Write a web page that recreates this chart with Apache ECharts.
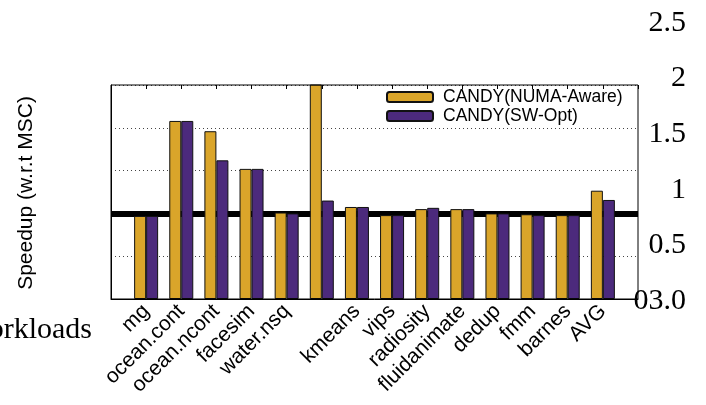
<!DOCTYPE html>
<html>
<head>
<meta charset="utf-8">
<script src="https://cdn.jsdelivr.net/npm/echarts@6.0.0/dist/echarts.min.js"></script>
<style>
  html, body { margin: 0; padding: 0; background: #fff; }
  #barchart { width: 706px; height: 405px; }
</style>
</head>
<body>
<div id="barchart"></div>
<script>
// workloads (6th group has no label in the original)
const workloads = ['mg', 'ocean.cont', 'ocean.ncont', 'facesim', 'water.nsq', '', 'kmeans', 'vips', 'radiosity', 'fluidanimate', 'dedup', 'fmm', 'barnes', 'AVG']
const numaAware = [0.97, 2.08, 1.96, 1.52, 1.01, 2.8, 1.075, 0.98, 1.05, 1.05, 1.0, 0.99, 0.98, 1.265]
const swOpt = [0.97, 2.08, 1.62, 1.52, 1.0, 1.15, 1.075, 0.98, 1.065, 1.05, 1.0, 0.98, 0.98, 1.157]
const rightTickLabels = ['03.0', '0.5', '1', '1.5', '2', '2.5']
const seriesNames = ['CANDY(NUMA-Aware)', 'CANDY(SW-Opt)']

// empty slot on both ends so groups sit on ticks like gnuplot's xrange [-1:14]
const axisCats = [''].concat(workloads, [''])
const pad = arr => ['-'].concat(arr, ['-'])

let myChart = echarts.init(document.getElementById('barchart'))
let option = {
  animation: false,
  backgroundColor: '#fff',
  grid: [
    { left: 111, right: 68, top: 85, bottom: 106, show: true, borderColor: '#000', borderWidth: 1, z: 3 },
    { left: 111, right: 68, top: 23, bottom: 104 }
  ],
  legend: {
    orient: 'vertical',
    left: 386,
    top: 88,
    itemWidth: 46,
    itemHeight: 10,
    itemGap: 1,
    padding: 0,
    data: seriesNames,
    textStyle: { fontFamily: 'Liberation Sans', fontSize: 17.5, color: '#000', lineHeight: 17, padding: [0, 0, 0, 5] }
  },
  xAxis: [
    {
      type: 'category',
      gridIndex: 0,
      data: axisCats,
      boundaryGap: false,
      axisLine: { lineStyle: { color: '#000', width: 1 } },
      axisTick: { show: false },
      axisLabel: { interval: 0, rotate: 45, margin: 9, fontFamily: 'Liberation Sans', fontSize: 21, color: '#000' }
    },
    {
      type: 'category',
      gridIndex: 0,
      position: 'top',
      data: axisCats,
      boundaryGap: false,
      axisLine: { show: false },
      axisTick: { show: true, inside: true, length: 4, interval: 0, lineStyle: { color: '#000' } },
      axisLabel: { show: false }
    },
    { type: 'value', gridIndex: 1, show: false }
  ],
  yAxis: [
    {
      type: 'value',
      gridIndex: 0,
      min: 0,
      max: 2.5,
      interval: 0.5,
      axisLine: { show: true, lineStyle: { color: '#000' } },
      axisTick: { show: false },
      axisLabel: { show: false },
      splitLine: { show: true, lineStyle: { color: '#444', type: [1, 3], width: 1 } }
    },
    {
      type: 'value',
      gridIndex: 1,
      position: 'right',
      min: 0,
      max: 2.5,
      interval: 0.5,
      axisLine: { show: false },
      axisTick: { show: false },
      splitLine: { show: false },
      axisLabel: {
        align: 'right',
        margin: 48,
        fontFamily: 'Liberation Serif',
        fontSize: 30,
        color: '#000',
        formatter: v => rightTickLabels[Math.round(v / 0.5)]
      }
    }
  ],
  graphic: [
    {
      type: 'text',
      x: 26,
      y: 193,
      rotation: Math.PI / 2,
      style: { text: 'Speedup (w.r.t MSC)', fontFamily: 'Liberation Sans', fontSize: 21, fill: '#000', align: 'center', verticalAlign: 'middle' }
    },
    {
      type: 'text',
      x: 92,
      y: 330,
      style: { text: 'Workloads', fontFamily: 'Liberation Serif', fontSize: 30, fill: '#000', align: 'right', verticalAlign: 'middle' }
    }
  ],
  series: [
    {
      name: seriesNames[0],
      type: 'bar',
      xAxisIndex: 0,
      yAxisIndex: 0,
      barWidth: 12,
      barGap: '0%',
      data: pad(numaAware),
      itemStyle: { color: '#daa52a', borderColor: '#111', borderWidth: 1 },
      markLine: {
        z: 1,
        silent: true,
        symbol: 'none',
        label: { show: false },
        lineStyle: { color: '#000', width: 6, type: 'solid' },
        data: [{ yAxis: 1 }]
      }
    },
    {
      name: seriesNames[1],
      type: 'bar',
      xAxisIndex: 0,
      yAxisIndex: 0,
      barWidth: 12,
      barGap: '0%',
      data: pad(swOpt),
      itemStyle: { color: '#4c2a7c', borderColor: '#111', borderWidth: 1 }
    }
  ]
}
myChart.setOption(option)
</script>
</body>
</html>
